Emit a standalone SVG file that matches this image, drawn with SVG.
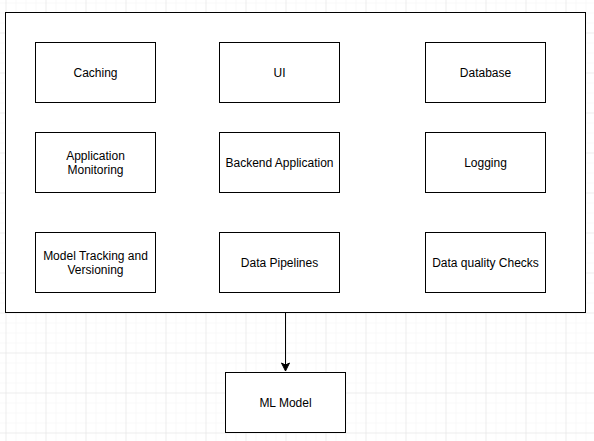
<svg xmlns="http://www.w3.org/2000/svg" width="594" height="441" viewBox="0 0 594 441">
<defs>
<pattern id="minor" x="5.5" y="2.5" width="10" height="10" patternUnits="userSpaceOnUse">
<path d="M0 0H10M0 0V10" fill="none" stroke="#f3f3f3" stroke-width="1"/>
</pattern>
<pattern id="major" x="5.5" y="32.5" width="40" height="40" patternUnits="userSpaceOnUse">
<path d="M0 0H40M0 0V40" fill="none" stroke="#e3e3e3" stroke-width="1"/>
</pattern>
<marker id="arrow" markerWidth="10" markerHeight="10" refX="9" refY="5" orient="auto" markerUnits="userSpaceOnUse">
<path d="M1 1L9 5L1 9L3 5Z" fill="#000" stroke="#000" stroke-width="1"/>
</marker>
<style>
.box{fill:#fff;stroke:#000;stroke-width:1}
.lbl{font-family:"Liberation Sans",Arial,Helvetica,sans-serif;font-size:12px;fill:#000;text-anchor:middle}
</style>
</defs>
<rect width="594" height="441" fill="#fff"/>
<rect width="594" height="441" fill="url(#minor)"/>
<rect width="594" height="441" fill="url(#major)"/>
<g id="container"><rect class="box" x="5.5" y="12.5" width="580" height="300"/></g>
<g id="caching"><rect class="box" x="35.5" y="42.5" width="120" height="60"/><text class="lbl" x="95.5" y="76.5">Caching</text></g>
<g id="ui"><rect class="box" x="219.5" y="42.5" width="120" height="60"/><text class="lbl" x="279.5" y="76.5">UI</text></g>
<g id="database"><rect class="box" x="425.5" y="42.5" width="120" height="60"/><text class="lbl" x="485.5" y="76.5">Database</text></g>
<g id="appmon"><rect class="box" x="35.5" y="132.5" width="120" height="60"/><text class="lbl" x="95.5" y="159.5">Application</text><text class="lbl" x="95.5" y="173.5">Monitoring</text></g>
<g id="backend"><rect class="box" x="219.5" y="132.5" width="120" height="60"/><text class="lbl" x="279.5" y="166.5">Backend Application</text></g>
<g id="logging"><rect class="box" x="425.5" y="132.5" width="120" height="60"/><text class="lbl" x="485.5" y="166.5">Logging</text></g>
<g id="modeltracking"><rect class="box" x="35.5" y="232.5" width="120" height="60"/><text class="lbl" x="95.5" y="259.5">Model Tracking and</text><text class="lbl" x="95.5" y="273.5">Versioning</text></g>
<g id="pipelines"><rect class="box" x="219.5" y="232.5" width="120" height="60"/><text class="lbl" x="279.5" y="266.5">Data Pipelines</text></g>
<g id="dq"><rect class="box" x="425.5" y="232.5" width="120" height="60"/><text class="lbl" x="485.5" y="266.5">Data quality Checks</text></g>
<g id="mlmodel"><rect class="box" x="225.5" y="372.5" width="120" height="60"/><text class="lbl" x="285.5" y="406.5">ML Model</text></g>
<g id="connectors"><path d="M285.5 313V371" fill="none" stroke="#000" stroke-width="1" marker-end="url(#arrow)"/></g>
</svg>
